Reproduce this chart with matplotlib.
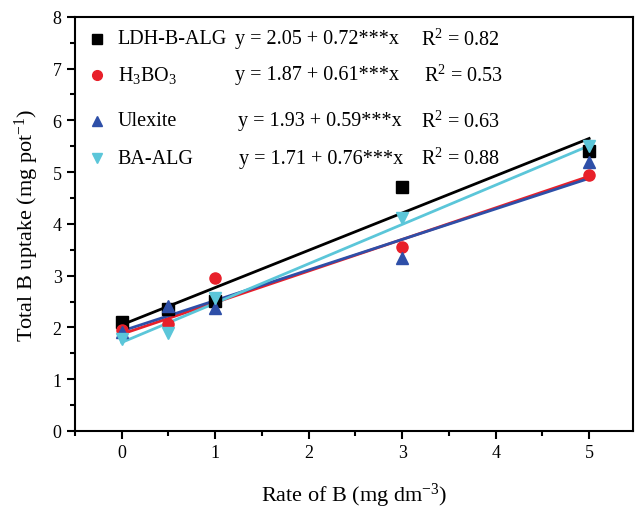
import numpy as np
import matplotlib
matplotlib.use("Agg")
import matplotlib.pyplot as plt
from matplotlib.ticker import MultipleLocator

plt.rcParams['font.family'] = ['Liberation Serif', 'DejaVu Serif']
plt.rcParams['mathtext.fontset'] = 'custom'
plt.rcParams['mathtext.rm'] = 'Liberation Serif'
plt.rcParams['mathtext.it'] = 'Liberation Serif:italic'

# --- Data ---
rates = np.array([0, 0.5, 1, 3, 5])
ldh_b_alg = np.array([2.11, 2.35, 2.52, 4.72, 5.41])
h3bo3 = np.array([1.95, 2.06, 2.95, 3.55, 4.94])
ulexite = np.array([1.92, 2.42, 2.38, 3.34, 5.20])
ba_alg = np.array([1.77, 1.90, 2.56, 4.11, 5.50])

names = ['LDH-B-ALG', r'H$_3$BO$_3$', 'Ulexite', 'BA-ALG']
intercepts = [2.05, 1.87, 1.93, 1.71]
slopes = [0.72, 0.61, 0.59, 0.76]
r2 = [0.82, 0.53, 0.63, 0.88]

colors = ['#000000', '#e8202a', '#2e4fa8', '#5bc6d9']
markers = ['s', 'o', '^', 'v']

# --- Plotting ---
fig = plt.figure(figsize=(6.35, 5.1), dpi=100)
ax = fig.add_axes([0.118, 0.153, 0.879, 0.812])

series = [ldh_b_alg, h3bo3, ulexite, ba_alg]
x_fit = np.array([rates.min(), rates.max()])
for y, b0, b1, c in zip(series, intercepts, slopes, colors):
    ax.plot(x_fit, b0 + b1 * x_fit, color=c, lw=2, zorder=2)
for y, c, m in zip(series, colors, markers):
    ax.plot(rates, y, linestyle='none', marker=m, color=c, ms=8, zorder=3)

# legend block drawn by hand so the columns line up
row_y = [0.947, 0.860, 0.749, 0.659]
eq_x = [0.287, 0.287, 0.292, 0.294]
r2_x = [0.62, 0.625, 0.62, 0.62]
for i in range(4):
    ax.plot([0.039], [row_y[i]], marker=markers[i], color=colors[i], ms=7,
            transform=ax.transAxes, clip_on=False)
    ax.text(0.077, row_y[i], names[i], transform=ax.transAxes, fontsize=14.5,
            va='center', ha='left')
    ax.text(eq_x[i], row_y[i], f"y = {intercepts[i]:.2f} + {slopes[i]:.2f}***x",
            transform=ax.transAxes, fontsize=14.5, va='center', ha='left')
    ax.text(r2_x[i], row_y[i], f"R$^2$ = {r2[i]:.2f}", transform=ax.transAxes,
            fontsize=14.5, va='center', ha='left')

# --- Formatting ---
ax.set_xlim(-0.5, 5.47)
ax.set_ylim(0, 8)
ax.xaxis.set_major_locator(MultipleLocator(1))
ax.xaxis.set_minor_locator(MultipleLocator(0.5))
ax.yaxis.set_major_locator(MultipleLocator(1))
ax.yaxis.set_minor_locator(MultipleLocator(0.5))
ax.tick_params(which='major', direction='out', length=6, width=1.5, labelsize=13)
ax.tick_params(which='minor', direction='out', length=3.5, width=1.5)
for s in ax.spines.values():
    s.set_linewidth(1.5)

ax.set_xlabel(r"Rate of B (mg dm$^{-3}$)", fontsize=16, labelpad=14)
ax.set_ylabel(r"Total B uptake (mg pot$^{-1}$)", fontsize=16, labelpad=8)

fig.savefig("out.png", dpi=100)
